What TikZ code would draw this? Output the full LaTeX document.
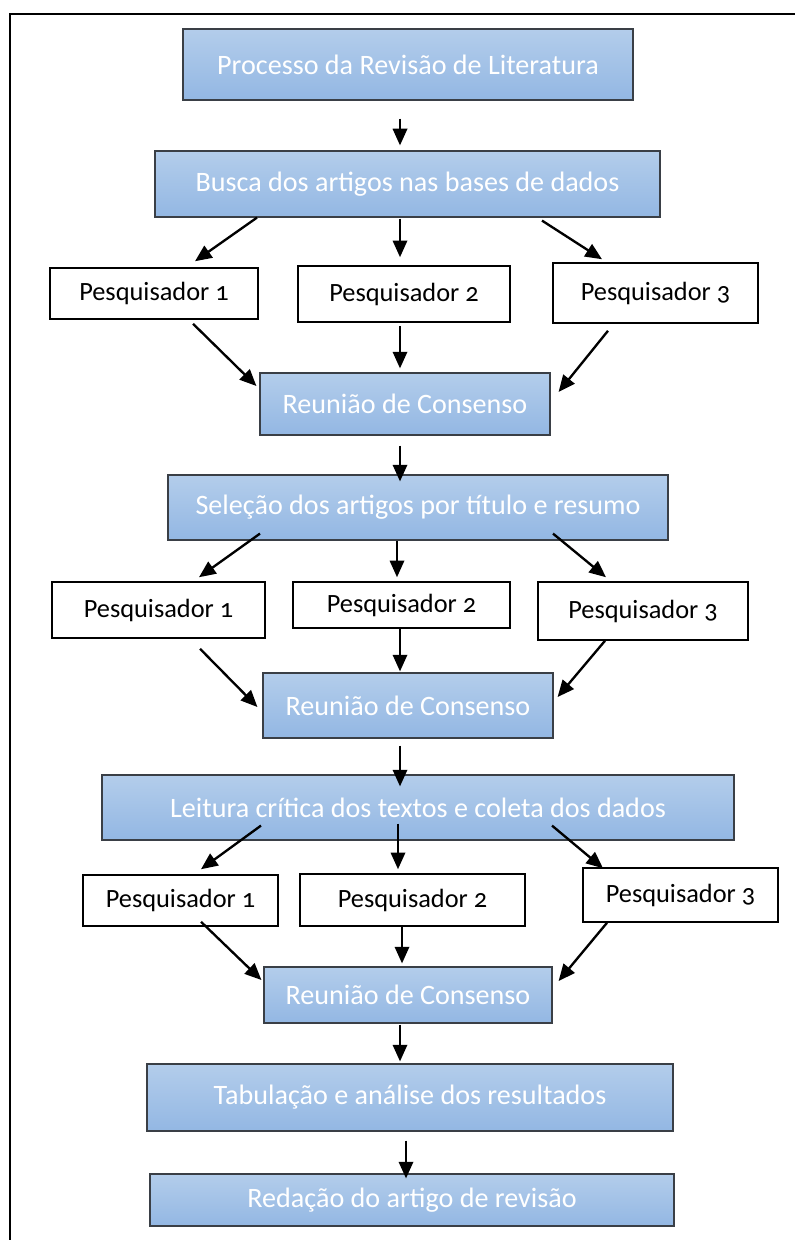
\documentclass[tikz,border=0pt]{standalone}
\usepackage{fontspec}
\setmainfont{Carlito}[Numbers=OldStyle]
\usetikzlibrary{arrows.meta,calc}

\definecolor{azulcima}{HTML}{B3CDEB}
\definecolor{azulbaixo}{HTML}{93B7E3}
\definecolor{bordaetapa}{HTML}{3A3F46}

\tikzset{
  etapa/.style={draw=bordaetapa,line width=1pt,top color=azulcima,bottom color=azulbaixo,
    text=white,font=\fontsize{24}{28}\selectfont,inner sep=0pt},
  pesq/.style={draw=black,line width=1.3pt,fill=white,font=\fontsize{22.5}{26}\selectfont,inner sep=0pt},
  tam/.style 2 args={minimum width=#1*0.3mm,minimum height=#2*0.3mm},
  seta/.style={line width=2pt,-{Triangle[length=5mm,width=4.3mm]}}
}

\begin{document}
\begin{tikzpicture}[x=0.3mm,y=-0.3mm]
  \useasboundingbox (0,0) rectangle (795,1240);
  \draw[line width=1.7pt] (10,1240) -- (10,14) -- (795,14);

  % etapas
  \node[etapa,tam={450}{71}] (proc) at (408,64.5) {Processo da Revisão de Literatura};
  \node[etapa,tam={505}{66}] (busca) at (407.5,184) {Busca dos artigos nas bases de dados};
  \node[etapa,tam={290}{62}] (reu1) at (405,404) {Reunião de Consenso};
  \node[etapa,tam={500}{65}] (sel) at (418,507.5) {Seleção dos artigos por título e resumo};
  \node[etapa,tam={290}{65}] (reu2) at (408,705.5) {Reunião de Consenso};
  \node[etapa,tam={632}{65}] (leit) at (418,807.5) {Leitura crítica dos textos e coleta dos dados};
  \node[etapa,tam={288}{56}] (reu3) at (408,995) {Reunião de Consenso};
  \node[etapa,tam={526}{67}] (tab) at (410,1097.5) {Tabulação e análise dos resultados};
  \node[etapa,tam={524}{52}] (red) at (412,1200) {Redação do artigo de revisão};

  % pesquisadores
  \node[pesq,tam={208}{51}] (pA1) at (154,293.5) {Pesquisador 1};
  \node[pesq,tam={212}{56}] (pA2) at (404,294) {Pesquisador 2};
  \node[pesq,tam={205}{60}] (pA3) at (655.5,293) {Pesquisador 3};
  \node[pesq,tam={213}{56}] (pB1) at (158.5,610) {Pesquisador 1};
  \node[pesq,tam={217}{46}] (pB2) at (401.5,605) {Pesquisador 2};
  \node[pesq,tam={210}{58}] (pB3) at (643,611) {Pesquisador 3};
  \node[pesq,tam={195}{51}] (pC1) at (180.5,900.5) {Pesquisador 1};
  \node[pesq,tam={225}{52}] (pC2) at (412.5,900) {Pesquisador 2};
  \node[pesq,tam={195}{54}] (pC3) at (680.5,895) {Pesquisador 3};

  % setas
  \draw[seta] ($(proc.south)+(-8,18)$) -- ($(busca.north)+(-7.5,-5)$);
  \draw[seta] ($(busca.south)+(-150.5,0)$) -- ($(pA1.north)+(41,-6)$);
  \draw[seta] ($(busca.south)+(-7.5,1)$) -- ($(pA2.north)+(-4,-8)$);
  \draw[seta] ($(busca.south)+(134.5,3)$) -- ($(pA3.north)+(-53.5,-3)$);
  \draw[seta] ($(pA1.south)+(39,4)$) -- ($(reu1.west)+(-3,-18)$);
  \draw[seta] ($(pA2.south)+(-4,3)$) -- ($(reu1.north)+(-5,-4)$);
  \draw[seta] ($(pA3.south)+(-47.5,7)$) -- ($(reu1.east)+(8,-12)$);
  \draw[seta] ($(reu1.south)+(-5,10)$) -- ($(sel.north)+(-18,7)$);

  \draw[seta] ($(sel.south)+(-158,-7)$) -- ($(pB1.north)+(40.5,-4)$);
  \draw[seta] ($(sel.south)+(-21,0)$) -- ($(pB2.north)+(-4.5,-4)$);
  \draw[seta] ($(sel.south)+(135,-7)$) -- ($(pB3.north)+(-37,-4)$);
  \draw[seta] ($(pB1.south)+(41.5,10)$) -- ($(reu2.west)+(-5,1.5)$);
  \draw[seta] ($(pB2.south)+(-1.5,0)$) -- ($(reu2.north)+(-8,-1)$);
  \draw[seta] ($(pB3.south)+(-38,0)$) -- ($(reu2.east)+(4,-8.5)$);
  \draw[seta] ($(reu2.south)+(-8,7)$) -- ($(leit.north)+(-18,12)$);

  \draw[seta] ($(leit.south)+(-157,-15)$) -- ($(pC1.north)+(20.5,-5)$);
  \draw[seta] ($(leit.south)+(-20,-17)$) -- ($(pC2.north)+(-14.5,-4)$);
  \draw[seta] ($(leit.south)+(134,-15)$) -- ($(pC3.north)+(-77.5,1)$);
  \draw[seta] ($(pC1.south)+(20.5,-5)$) -- ($(reu3.west)+(-2,-15)$);
  \draw[seta] ($(pC2.south)+(-10.5,-1)$) -- ($(reu3.north)+(-6,-3)$);
  \draw[seta] ($(pC3.south)+(-73.5,0)$) -- ($(reu3.east)+(6,-14)$);
  \draw[seta] ($(reu3.south)+(-8,1)$) -- ($(tab.north)+(-10,-2)$);
  \draw[seta] ($(tab.south)+(-4,9)$) -- ($(red.north)+(-6,5)$);
\end{tikzpicture}
\end{document}
